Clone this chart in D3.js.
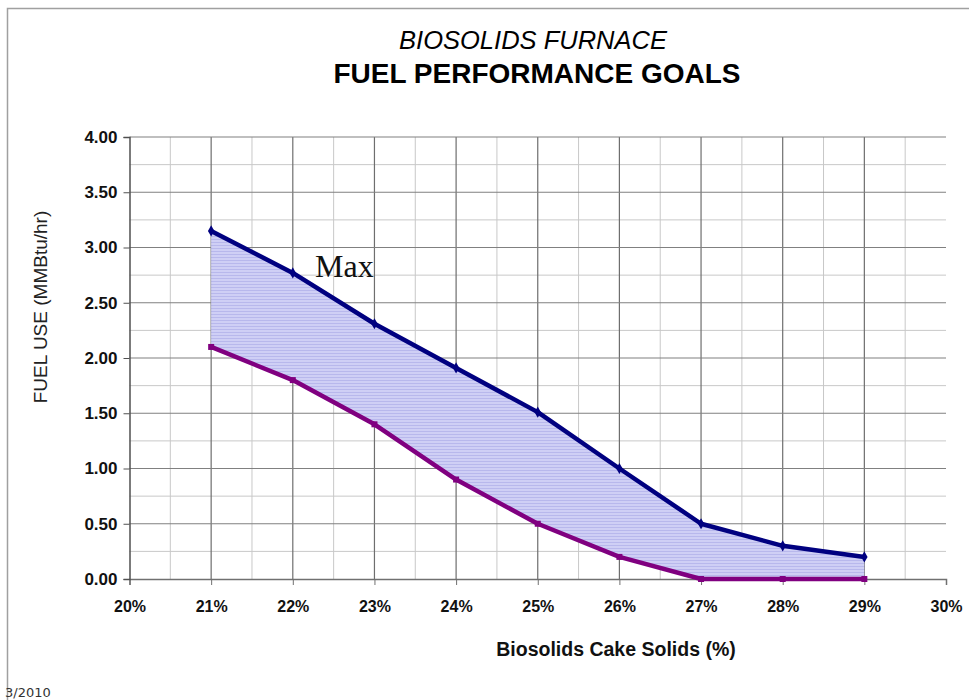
<!DOCTYPE html>
<html>
<head>
<meta charset="utf-8">
<script src="https://cdn.jsdelivr.net/npm/d3@7"></script>
<style>
  html, body { margin: 0; padding: 0; background: #fff; }
  svg { display: block; }
</style>
</head>
<body>
<script>
// ---- data ----
const solids = [21, 22, 23, 24, 25, 26, 27, 28, 29];          // Biosolids cake solids (%)
const maxFuel = [3.15, 2.77, 2.31, 1.91, 1.51, 1.00, 0.50, 0.30, 0.20]; // MMBtu/hr
const minFuel = [2.10, 1.80, 1.40, 0.90, 0.50, 0.20, 0.00, 0.00, 0.00]; // MMBtu/hr
const xTicks = [20, 21, 22, 23, 24, 25, 26, 27, 28, 29, 30];
const yTicks = [0, 0.5, 1, 1.5, 2, 2.5, 3, 3.5, 4];
const titleLine1 = "BIOSOLIDS FURNACE";
const titleLine2 = "FUEL PERFORMANCE GOALS";
const xTitle = "Biosolids Cake Solids (%)";
const yTitle = "FUEL USE (MMBtu/hr)";
const seriesLabel = "Max";
const footer = "3/2010";

const W = 969, H = 700;
const svg = d3.select("body").append("svg").attr("width", W).attr("height", H);

const x = d3.scaleLinear().domain([20, 30]).range([129.5, 946]);
const y = d3.scaleLinear().domain([0, 4]).range([579, 137]);

// frame
svg.append("path").attr("d", `M7.5,${H} V8.5 H${W}`).attr("fill", "none")
  .attr("stroke", "#a0a0a0").attr("stroke-width", 1.5);

// hatch pattern for the band
const defs = svg.append("defs");
const pat = defs.append("pattern").attr("id", "hatch").attr("patternUnits", "userSpaceOnUse")
  .attr("width", 8).attr("height", 3);
pat.append("rect").attr("width", 8).attr("height", 3).attr("fill", "#cfcff5");
pat.append("rect").attr("y", 2).attr("width", 8).attr("height", 1).attr("fill", "#b8b8ec");

const g = svg.append("g");

// minor grid
const minorX = d3.range(20.5, 30, 1);
const minorY = d3.range(0.25, 4, 0.5);
g.selectAll(".vminor").data(minorX).join("line")
  .attr("x1", d => x(d)).attr("x2", d => x(d)).attr("y1", y(4)).attr("y2", y(0))
  .attr("stroke", "#c8c8c8").attr("stroke-width", 1);
g.selectAll(".hminor").data(minorY).join("line")
  .attr("x1", x(20)).attr("x2", x(30)).attr("y1", d => y(d)).attr("y2", d => y(d))
  .attr("stroke", "#c8c8c8").attr("stroke-width", 1);

// major grid
g.selectAll(".vmajor").data(xTicks.filter(d => d > 20 && d < 30)).join("line")
  .attr("x1", d => x(d)).attr("x2", d => x(d)).attr("y1", y(4)).attr("y2", y(0))
  .attr("stroke", "#6e6e6e").attr("stroke-width", 1.2);
g.selectAll(".hmajor").data(yTicks.filter(d => d > 0)).join("line")
  .attr("x1", x(20)).attr("x2", x(30)).attr("y1", d => y(d)).attr("y2", d => y(d))
  .attr("stroke", "#808080").attr("stroke-width", 1.2);

// band between min and max
const pts = solids.map((s, i) => ({ s, hi: maxFuel[i], lo: minFuel[i] }));
g.append("path").datum(pts)
  .attr("d", d3.area().x(d => x(d.s)).y0(d => y(d.lo)).y1(d => y(d.hi)))
  .attr("fill", "url(#hatch)");

// axes
const xAxis = d3.axisBottom(x).tickValues(xTicks).tickSize(6).tickFormat(d => d + "%");
const yAxis = d3.axisLeft(y).tickValues(yTicks).tickSize(6).tickFormat(d3.format(".2f"));

const gx = svg.append("g").attr("transform", `translate(0,${y(0)})`).call(xAxis);
gx.select(".domain").attr("stroke", "#707070").attr("stroke-width", 1.5);
gx.selectAll(".tick line").attr("stroke", "#707070");
gx.selectAll(".tick text").attr("dy", 0).attr("y", 33)
  .attr("font-family", "Liberation Sans, Arial, sans-serif").attr("font-weight", "bold")
  .attr("font-size", 16).attr("fill", "#111");

const gy = svg.append("g").attr("transform", `translate(${x(20)},0)`).call(yAxis);
gy.select(".domain").attr("stroke", "#505050").attr("stroke-width", 1.5);
gy.selectAll(".tick line").attr("stroke", "#505050");
gy.selectAll(".tick text").attr("x", -12)
  .attr("font-family", "Liberation Sans, Arial, sans-serif").attr("font-weight", "bold")
  .attr("font-size", 17).attr("fill", "#111");

// lines
const lineHi = d3.line().x(d => x(d.s)).y(d => y(d.hi));
const lineLo = d3.line().x(d => x(d.s)).y(d => y(d.lo));
svg.append("path").datum(pts).attr("d", lineLo).attr("fill", "none")
  .attr("stroke", "#800080").attr("stroke-width", 4.5).attr("stroke-linejoin", "round");
svg.append("path").datum(pts).attr("d", lineHi).attr("fill", "none")
  .attr("stroke", "#000080").attr("stroke-width", 4.5).attr("stroke-linejoin", "round");

// markers
svg.selectAll(".mhi").data(pts).join("path")
  .attr("transform", d => `translate(${x(d.s)},${y(d.hi)})`)
  .attr("d", d3.symbol(d3.symbolDiamond, 36)).attr("fill", "#000080");
svg.selectAll(".mlo").data(pts).join("path")
  .attr("transform", d => `translate(${x(d.s)},${y(d.lo)})`)
  .attr("d", d3.symbol(d3.symbolSquare, 36)).attr("fill", "#800080");

// titles
svg.append("text").attr("x", 533).attr("y", 49).attr("text-anchor", "middle")
  .attr("font-family", "Liberation Sans, Arial, sans-serif").attr("font-style", "italic")
  .attr("font-size", 25.5).attr("fill", "#000").text(titleLine1);
svg.append("text").attr("x", 537).attr("y", 83).attr("text-anchor", "middle")
  .attr("font-family", "Liberation Sans, Arial, sans-serif").attr("font-weight", "bold")
  .attr("font-size", 28).attr("fill", "#000").text(titleLine2);

svg.append("text").attr("x", 616).attr("y", 656).attr("text-anchor", "middle")
  .attr("font-family", "Liberation Sans, Arial, sans-serif").attr("font-weight", "bold")
  .attr("font-size", 19.5).attr("fill", "#111").text(xTitle);

svg.append("text").attr("transform", "translate(47,307) rotate(-90)").attr("text-anchor", "middle")
  .attr("font-family", "Liberation Sans, Arial, sans-serif")
  .attr("font-size", 19).attr("fill", "#222").text(yTitle);

svg.append("text").attr("x", 315).attr("y", 277)
  .attr("font-family", "Liberation Serif, Times New Roman, serif")
  .attr("font-size", 32).attr("fill", "#111").text(seriesLabel);

svg.append("text").attr("x", 5).attr("y", 697)
  .attr("font-family", "DejaVu Sans, sans-serif")
  .attr("font-size", 13).attr("fill", "#333").text(footer);
</script>
</body>
</html>
